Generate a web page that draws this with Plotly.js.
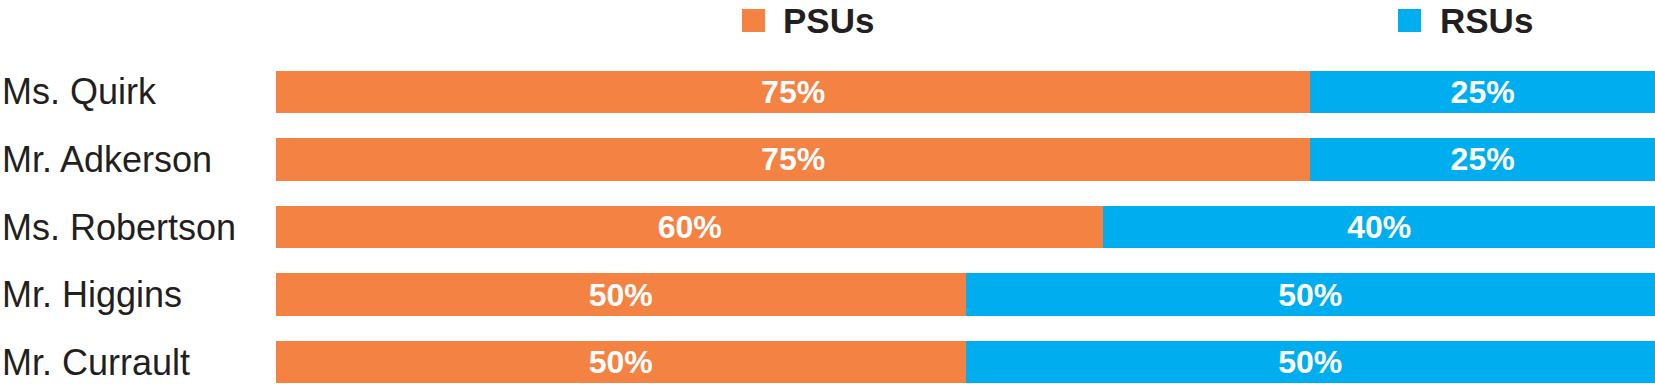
<!DOCTYPE html>
<html>
<head>
<meta charset="utf-8">
<script src="https://cdn.plot.ly/plotly-3.0.1.min.js"></script>
<style>html,body{margin:0;padding:0;background:#fff;}#chart{width:1655px;height:384px;}</style>
</head>
<body>
<div id="chart"></div>
<script>
const executives = ["Ms. Quirk", "Mr. Adkerson", "Ms. Robertson", "Mr. Higgins", "Mr. Currault"];
const seriesNames = ["PSUs", "RSUs"];
const psuShare = [75, 75, 60, 50, 50];
const rsuShare = [25, 25, 40, 50, 50];
const seriesColors = ["#F48242", "#00AEEF"];

const W = 1655, H = 384, L = 276, T = 58;
const plotW = W - L, plotH = H - T;
const px2x = p => (p - L) / plotW;
const px2y = p => (H - p) / plotH;

const barText = {family: "Liberation Sans, Arial, sans-serif", size: 32, color: "#ffffff", weight: 700};

const traces = [psuShare, rsuShare].map((vals, i) => ({
  type: "bar",
  orientation: "h",
  name: seriesNames[i],
  x: vals,
  y: executives,
  width: 0.63,
  marker: {color: seriesColors[i], line: {width: 0}},
  texttemplate: "%{x}%",
  textposition: "inside",
  insidetextanchor: "middle",
  textangle: 0,
  textfont: barText,
  constraintext: "none",
  hoverinfo: "skip",
  showlegend: false
}));

const annotations = executives.map(name => ({
  text: name, xref: "paper", x: px2x(0), xanchor: "left",
  yref: "y", y: name, yanchor: "middle", showarrow: false,
  font: {family: "Liberation Sans, Arial, sans-serif", size: 36, color: "#231F20"}
}));
const legendSquares = [742, 1398];
const legendText = [781, 1438];
seriesNames.forEach((n, i) => {
  annotations.push({
    text: n, xref: "paper", x: px2x(legendText[i]), xanchor: "left",
    yref: "paper", y: px2y(20.5), yanchor: "middle", showarrow: false,
    font: {family: "Liberation Sans, Arial, sans-serif", size: 35, color: "#231F20", weight: 700}
  });
});
const shapes = seriesNames.map((n, i) => ({
  type: "rect", xref: "paper", yref: "paper",
  x0: px2x(legendSquares[i]), x1: px2x(legendSquares[i] + 23),
  y0: px2y(32), y1: px2y(9),
  fillcolor: seriesColors[i], line: {width: 0}
}));

const layout = {
  width: W, height: H,
  margin: {l: L, r: 0, t: T, b: 0, pad: 0},
  barmode: "stack",
  paper_bgcolor: "#ffffff", plot_bgcolor: "#ffffff",
  showlegend: false,
  xaxis: {range: [0, 100], visible: false, fixedrange: true},
  yaxis: {type: "category", categoryorder: "array", categoryarray: executives,
          range: [-0.5 + plotH / 67.6, -0.5], showticklabels: false,
          showgrid: false, zeroline: false, showline: false, ticks: "", fixedrange: true},
  uniformtext: {mode: false},
  annotations: annotations,
  shapes: shapes
};

Plotly.newPlot("chart", traces, layout, {displayModeBar: false, staticPlot: true});
</script>
</body>
</html>
